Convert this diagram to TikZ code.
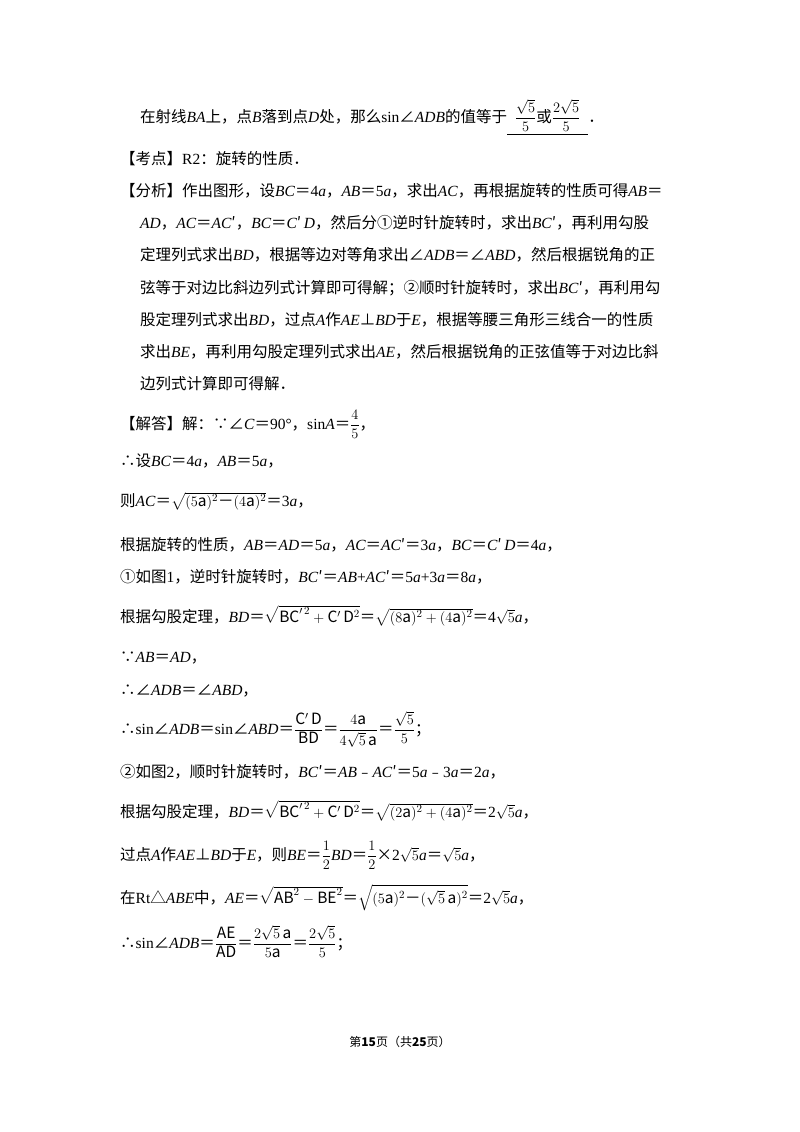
\documentclass[tikz,border=0pt]{standalone}
\usepackage{amsmath}
\usepackage{fontspec}
\setmainfont{Noto Sans CJK SC}
\newfontfamily\lserif{Liberation Serif}
\newcommand{\I}[1]{{\lserif\itshape #1}}
\newcommand{\R}[1]{{\lserif #1}}
\begin{document}
\begin{tikzpicture}[x=1pt,y=-1pt,
  ln/.style={anchor=base west,inner sep=0pt,font=\fontsize{15.5}{18}\selectfont},
  ft/.style={anchor=base,inner sep=0pt,font=\fontsize{12}{14}\selectfont}]
\useasboundingbox (0,0) rectangle (800,1132);
\node[ln] (l1) at (140,122) {在射线\I{BA}上，点\I{B}落到点\I{D}处，那么\R{sin}∠\I{ADB}的值等于$\underline{\;\;\dfrac{\sqrt5}{5}\mbox{或}\dfrac{2\sqrt5}{5}\;\;}$．};
\node[ln] (l2) at (120,164) {【考点】\R{R2}：旋转的性质．};
\node[ln] (l3) at (120,196) {【分析】作出图形，设\I{BC}＝\R{4}\I{a}，\I{AB}＝\R{5}\I{a}，求出\I{AC}，再根据旋转的性质可得\I{AB}＝};
\node[ln] (l4) at (140,228) {\I{AD}，\I{AC}＝\I{AC}′，\I{BC}＝\I{C}′\,\I{D}，然后分①逆时针旋转时，求出\I{BC}′，再利用勾股};
\node[ln] (l5) at (140,260) {定理列式求出\I{BD}，根据等边对等角求出∠\I{ADB}＝∠\I{ABD}，然后根据锐角的正};
\node[ln] (l6) at (140,293) {弦等于对边比斜边列式计算即可得解；②顺时针旋转时，求出\I{BC}′，再利用勾};
\node[ln] (l7) at (140,325) {股定理列式求出\I{BD}，过点\I{A}作\I{AE}⊥\I{BD}于\I{E}，根据等腰三角形三线合一的性质};
\node[ln] (l8) at (140,357) {求出\I{BE}，再利用勾股定理列式求出\I{AE}，然后根据锐角的正弦值等于对边比斜};
\node[ln] (l9) at (140,389) {边列式计算即可得解．};
\node[ln] (l10) at (120,429) {【解答】解：∵∠\I{C}＝\R{90°}，\R{sin}\I{A}＝$\dfrac{4}{5}$，};
\node[ln] (l11) at (120,466) {∴设\I{BC}＝\R{4}\I{a}，\I{AB}＝\R{5}\I{a}，};
\node[ln] (l12) at (120,506) {则\I{AC}＝$\sqrt{(5\mathrm{a})^2\text{－}(4\mathrm{a})^2}$＝\R{3}\I{a}，};
\node[ln] (l13) at (120,550) {根据旋转的性质，\I{AB}＝\I{AD}＝\R{5}\I{a}，\I{AC}＝\I{AC}′＝\R{3}\I{a}，\I{BC}＝\I{C}′\,\I{D}＝\R{4}\I{a}，};
\node[ln] (l14) at (120,582) {①如图\R{1}，逆时针旋转时，\I{BC}′＝\I{AB}\R{+}\I{AC}′＝\R{5}\I{a}\R{+3}\I{a}＝\R{8}\I{a}，};
\node[ln] (l15) at (120,622) {根据勾股定理，\I{BD}＝$\sqrt{\mathrm{BC}'^{\,2}+\mathrm{C}'\,\mathrm{D}^2}$＝$\sqrt{(8\mathrm{a})^2+(4\mathrm{a})^2}$＝\R{4}$\sqrt5$\I{a}，};
\node[ln] (l16) at (120,662) {∵\I{AB}＝\I{AD}，};
\node[ln] (l17) at (120,695) {∴∠\I{ADB}＝∠\I{ABD}，};
\node[ln] (l18) at (120,734) {∴\R{sin}∠\I{ADB}＝\R{sin}∠\I{ABD}＝$\dfrac{\mathrm{C}'\,\mathrm{D}}{\mathrm{BD}}$＝$\dfrac{4\mathrm{a}}{4\sqrt5\,\mathrm{a}}$＝$\dfrac{\sqrt5}{5}$；};
\node[ln] (l19) at (120,777) {②如图\R{2}，顺时针旋转时，\I{BC}′＝\I{AB}﹣\I{AC}′＝\R{5}\I{a}﹣\R{3}\I{a}＝\R{2}\I{a}，};
\node[ln] (l20) at (120,817) {根据勾股定理，\I{BD}＝$\sqrt{\mathrm{BC}'^{\,2}+\mathrm{C}'\,\mathrm{D}^2}$＝$\sqrt{(2\mathrm{a})^2+(4\mathrm{a})^2}$＝\R{2}$\sqrt5$\I{a}，};
\node[ln] (l21) at (120,860) {过点\I{A}作\I{AE}⊥\I{BD}于\I{E}，则\I{BE}＝$\dfrac{1}{2}$\I{BD}＝$\dfrac{1}{2}$×\R{2}$\sqrt5$\I{a}＝$\sqrt5$\I{a}，};
\node[ln] (l22) at (120,903) {在\R{Rt}△\I{ABE}中，\I{AE}＝$\sqrt{\mathrm{AB}^2-\mathrm{BE}^2}$＝$\sqrt{(5\mathrm{a})^2\text{－}(\sqrt5\,\mathrm{a})^2}$＝\R{2}$\sqrt5$\I{a}，};
\node[ln] (l23) at (120,948) {∴\R{sin}∠\I{ADB}＝$\dfrac{\mathrm{AE}}{\mathrm{AD}}$＝$\dfrac{2\sqrt5\,\mathrm{a}}{5\mathrm{a}}$＝$\dfrac{2\sqrt5}{5}$；};
\node[ft] (foot) at (400,1046) {第\textbf{15}页（共\textbf{25}页）};
\end{tikzpicture}
\end{document}
